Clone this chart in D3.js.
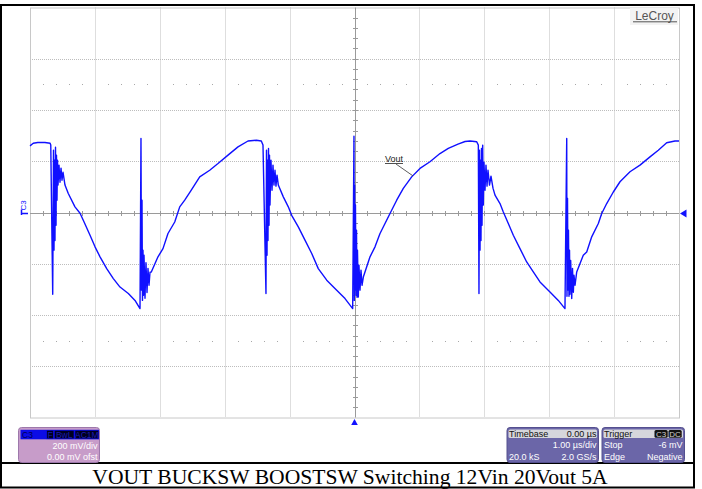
<!DOCTYPE html>
<html>
<head>
<meta charset="utf-8">
<script src="https://cdn.jsdelivr.net/npm/d3@7"></script>
<style>
  body { margin: 0; background: #fff; }
  svg { display: block; }
  text { font-family: "Liberation Sans", Arial, sans-serif; }
</style>
</head>
<body>
<svg id="scope" width="702" height="489"></svg>
<script>
// Channel 3 capture: time in microseconds, output voltage (AC coupled) in millivolts
const timeUs = [
  -5.00, -4.95, -4.88, -4.77, -4.69, -4.68, -4.65, -4.638, -4.630, -4.622, -4.615, -4.607, -4.599, -4.592,
  -4.584, -4.576, -4.568, -4.553, -4.538, -4.522, -4.507, -4.491, -4.461, -4.410, -4.307, -4.229, -4.179,
  -4.075, -3.998, -3.921, -3.818, -3.716, -3.613, -3.485, -3.382, -3.305, -3.290, -3.282, -3.274, -3.267,
  -3.259, -3.251, -3.243, -3.228, -3.213, -3.197, -3.182, -3.166, -3.151, -3.131, -3.028, -2.951, -2.874,
  -2.770, -2.693, -2.616, -2.515, -2.385, -2.231, -2.103, -1.949, -1.795, -1.641, -1.513, -1.436, -1.410,
  -1.364, -1.356, -1.348, -1.341, -1.333, -1.325, -1.317, -1.310, -1.302, -1.287, -1.271, -1.256, -1.241,
  -1.225, -1.210, -1.194, -1.174, -1.097, -1.020, -0.968, -0.866, -0.763, -0.659, -0.558, -0.428, -0.274,
  -0.146, -0.028, -0.008, -0.003, 0.002, 0.008, 0.015, 0.023, 0.031, 0.039, 0.046, 0.059, 0.069, 0.085,
  0.100, 0.116, 0.136, 0.239, 0.316, 0.393, 0.470, 0.547, 0.650, 0.752, 0.881, 1.009, 1.163, 1.317, 1.445,
  1.595, 1.703, 1.780, 1.883, 1.908, 1.918, 1.926, 1.934, 1.941, 1.949, 1.957, 1.965, 1.975, 1.985, 1.995,
  2.011, 2.026, 2.042, 2.057, 2.080, 2.103, 2.134, 2.165, 2.242, 2.293, 2.370, 2.447, 2.550, 2.653, 2.755,
  2.858, 3.012, 3.140, 3.243, 3.270, 3.274, 3.282, 3.290, 3.297, 3.305, 3.313, 3.320, 3.331, 3.347, 3.359,
  3.372, 3.382, 3.398, 3.424, 3.525, 3.578, 3.655, 3.757, 3.809, 3.886, 3.988, 4.091, 4.245, 4.399, 4.553,
  4.681, 4.810, 4.938, 5.000
];
const voutMv = [
  260, 270, 273, 273, 270, 263, -319, 243, -147, 204, -109, 255, -50, 224,
  48, 204, 107, 185, 118, 173, 126, 157, 107, 74, 22, -3, -30,
  -89, -134, -173, -219, -258, -291, -316, -343, -375, 289, -303, 48, -343,
  -147, -323, -167, -335, -196, -312, -218, -284, -233, -232, -173, -141, -82,
  -37, 22, 48, 87, 139, 165, 191, 224, 256, 279, 282, 279, 263,
  -316, 243, -167, 204, -109, 250, -50, 224, 29, 204, 87, 185, 107,
  165, 103, 146, 107, 61, 22, -11, -56, -108, -160, -219, -264, -303,
  -336, -375, 298, -343, 107, -303, 29, -323, -69, -331, -147, -330, -206, -303,
  -225, -284, -252, -173, -134, -82, -43, -4, 48, 94, 139, 172, 198, 230, 250,
  267, 277, 279, 276, 263, -316, 243, -147, 204, -109, 250, -50, 263, 29, 196,
  87, 185, 103, 165, 107, 142, 95, 68, 35, 2, -43, -89, -141, -193, -232,
  -271, -310, -343, -375, 289, -327, 56, -303, -69, -327, -147, -319, -187, -336, -218,
  -311, -245, -284, -232, -167, -154, -95, -43, -4, 35, 80, 120, 159, 185, 217,
  243, 272, 279, 279
];

// Graticule: 10 horizontal divisions of 1 µs, 8 vertical divisions of 200 mV
const xDivsUs = d3.range(-5, 5.0001, 1);
const yDivsMv = d3.range(-800, 801, 200);
const minorStepUs = 0.2;
const minorStepMv = 40;
const dotRowsMv = [500, -500];

const traceLabel = "Vout";
const channelName = "C3";
const channelFlags = ["F", "BwL", "AC1M"];
const channelLines = ["200 mV/div", "0.00 mV ofst"];
const timebaseTitle = ["Timebase", "0.00 µs"];
const timebaseRows = [["", "1.00 µs/div"], ["20.0 kS", "2.0 GS/s"]];
const triggerTitle = "Trigger";
const triggerFlags = ["C3", "DC"];
const triggerRows = [["Stop", "-6 mV"], ["Edge", "Negative"]];
const brand = "LeCroy";
const caption = "VOUT BUCKSW BOOSTSW Switching 12Vin 20Vout 5A";

const svg = d3.select("#scope");
const x = d3.scaleLinear().domain([-5, 5]).range([30, 679]);
const y = d3.scaleLinear().domain([-800, 800]).range([417.5, 7.5]);
const px = v => Math.round(v) + 0.5;

// Outer frame and caption separator
svg.append("rect").attr("x", 1).attr("y", 5).attr("width", 693).attr("height", 482.5)
  .attr("fill", "none").attr("stroke", "#000").attr("stroke-width", 2);
svg.append("line").attr("x1", 1).attr("x2", 694).attr("y1", 463).attr("y2", 463)
  .attr("stroke", "#000").attr("stroke-width", 2);

const grid = svg.append("g");
// Dotted division lines
grid.selectAll("line.vdiv").data(xDivsUs.slice(1, -1).filter(d => d !== 0)).join("line")
  .attr("x1", d => px(x(d))).attr("x2", d => px(x(d)))
  .attr("y1", y(800)).attr("y2", y(-800))
  .attr("stroke", "#bdbdbd").attr("stroke-dasharray", "1,1");
grid.selectAll("line.hdiv").data(yDivsMv.slice(1, -1).filter(d => d !== 0)).join("line")
  .attr("y1", d => px(y(d))).attr("y2", d => px(y(d)))
  .attr("x1", x(-5)).attr("x2", x(5))
  .attr("stroke", "#bdbdbd").attr("stroke-dasharray", "1,1");

// Dotted rows at ±1.5 divisions from the edges
const minorTimes = d3.range(-5 + minorStepUs, 5, minorStepUs)
  .filter(t => Math.abs(t - Math.round(t)) > 1e-6);
dotRowsMv.forEach(mv => {
  grid.selectAll(null).data(minorTimes).join("rect")
    .attr("x", d => Math.round(x(d))).attr("y", Math.round(y(mv)))
    .attr("width", 1).attr("height", 1).attr("fill", "#a8a8a8");
});

// Border of the graticule
grid.append("rect").attr("x", x(-5) + 0.5).attr("y", y(800) + 0.5)
  .attr("width", x(5) - x(-5)).attr("height", y(-800) - y(800))
  .attr("fill", "none").attr("stroke", "#c8c8c8");

// Centre axes with minor ticks
const cx = px(x(0)), cy = px(y(0));
grid.append("line").attr("x1", x(-5)).attr("x2", x(5)).attr("y1", cy).attr("y2", cy)
  .attr("stroke", "#9a9a9a");
grid.append("line").attr("x1", cx).attr("x2", cx).attr("y1", y(800)).attr("y2", y(-800))
  .attr("stroke", "#9a9a9a");
grid.selectAll(null).data(d3.range(-5 + minorStepUs, 5, minorStepUs)).join("line")
  .attr("x1", d => px(x(d))).attr("x2", d => px(x(d)))
  .attr("y1", cy - 2.5).attr("y2", cy + 2.5).attr("stroke", "#9a9a9a");
grid.selectAll(null).data(d3.range(-800 + minorStepMv, 800, minorStepMv)).join("line")
  .attr("y1", d => px(y(d))).attr("y2", d => px(y(d)))
  .attr("x1", cx - 2.5).attr("x2", cx + 2.5).attr("stroke", "#9a9a9a");

// Waveform
const points = timeUs.map((t, i) => [t, voutMv[i]]);
svg.append("path").datum(points)
  .attr("d", d3.line().x(d => x(d[0])).y(d => y(d[1])))
  .attr("fill", "none").attr("stroke", "#1010ff").attr("stroke-width", 1.4)
  .attr("stroke-linejoin", "round");

// Trace label with leader
svg.append("text").attr("x", 385).attr("y", 162).attr("font-size", 9).attr("fill", "#222")
  .text(traceLabel);
svg.append("line").attr("x1", 385).attr("x2", 403).attr("y1", 163.5).attr("y2", 163.5)
  .attr("stroke", "#222").attr("stroke-width", 0.8);
svg.append("line").attr("x1", 396).attr("y1", 164).attr("x2", x(0.90)).attr("y2", y(143))
  .attr("stroke", "#333").attr("stroke-width", 0.8);

// Channel ground marker on the left, trigger level and trigger position markers
svg.append("text").attr("transform", `translate(26,210.5) rotate(-90)`)
  .attr("font-size", 8).attr("fill", "#1212ff").text(channelName);
svg.append("path").attr("d", `M21.5,209.5V215M21.5,${cy}H28`)
  .attr("stroke", "#1212ff").attr("stroke-width", 1.5).attr("fill", "none");
svg.append("path").attr("d", `M680,${cy}L686.5,${cy - 4}L686.5,${cy + 4}Z`).attr("fill", "#1212ff");
svg.append("path").attr("d", `M${x(0)},419L${x(0) - 3.3},425L${x(0) + 3.3},425Z`).attr("fill", "#1212ff");

// Brand mark
svg.append("rect").attr("x", 630).attr("y", 8).attr("width", 48).attr("height", 17).attr("fill", "#f3f3f3");
svg.append("text").attr("x", 654.5).attr("y", 20).attr("text-anchor", "middle")
  .attr("font-size", 12).attr("fill", "#555").text(brand);
svg.append("line").attr("x1", 633).attr("x2", 677).attr("y1", 21.8).attr("y2", 21.8)
  .attr("stroke", "#555").attr("stroke-width", 1);

// Channel descriptor box
const ch = svg.append("g");
ch.append("rect").attr("x", 18.5).attr("y", 427.5).attr("width", 81).attr("height", 35).attr("rx", 3)
  .attr("fill", "#c79cc9").attr("stroke", "#9d78ab");
ch.append("rect").attr("x", 20.5).attr("y", 429.8).attr("width", 78.5).attr("height", 9.5).attr("fill", "#0c0ce6");
ch.append("text").attr("x", 22).attr("y", 437.8).attr("font-size", 8.5).attr("fill", "#000050").text(channelName);
const flagBoxes = [[46.7, 6.6], [54.3, 19.7], [75, 23.7]];
channelFlags.forEach((f, i) => {
  ch.append("rect").attr("x", flagBoxes[i][0]).attr("y", 430.3).attr("width", flagBoxes[i][1]).attr("height", 8.5)
    .attr("fill", "#000020").attr("stroke", "#0c0ce6").attr("stroke-width", 0.6);
  ch.append("text").attr("x", flagBoxes[i][0] + flagBoxes[i][1] / 2).attr("y", 437.8)
    .attr("text-anchor", "middle").attr("font-size", 8.5).attr("fill", "#1a1ab0").text(f);
});
channelLines.forEach((s, i) => {
  ch.append("text").attr("x", 97.5).attr("y", 448.5 + i * 11.5).attr("text-anchor", "end")
    .attr("font-size", 9).attr("fill", "#fff").text(s);
});

// Timebase and trigger boxes
function infoBox(x0, w, title, titleRight, rows, flags) {
  const g = svg.append("g");
  g.append("rect").attr("x", x0 + 0.5).attr("y", 427.5).attr("width", w).attr("height", 35).attr("rx", 3)
    .attr("fill", "#6b66a8").attr("stroke", "#55508f");
  g.append("rect").attr("x", x0 + 2).attr("y", 429.5).attr("width", w - 3).attr("height", 8.5)
    .attr("rx", 1.5).attr("fill", "#d6d6dc");
  g.append("text").attr("x", x0 + 2.5).attr("y", 436.8).attr("font-size", 9).attr("fill", "#111").text(title);
  if (titleRight) {
    g.append("text").attr("x", x0 + w - 1.5).attr("y", 436.8).attr("text-anchor", "end")
      .attr("font-size", 9).attr("fill", "#111").text(titleRight);
  }
  if (flags) {
    let fx = x0 + w - 1.5;
    flags.slice().reverse().forEach(f => {
      const fw = 14;
      fx -= fw;
      g.append("rect").attr("x", fx).attr("y", 430).attr("width", fw - 0.8).attr("height", 7.8)
        .attr("rx", 1.5).attr("fill", "#111");
      g.append("text").attr("x", fx + fw / 2 - 0.4).attr("y", 436.6).attr("text-anchor", "middle")
        .attr("font-size", 8).attr("fill", "#d0d0d0").text(f);
    });
  }
  rows.forEach((r, i) => {
    const yy = 448.3 + i * 11.7;
    if (r[0]) g.append("text").attr("x", x0 + 2.5).attr("y", yy).attr("font-size", 9).attr("fill", "#fff").text(r[0]);
    g.append("text").attr("x", x0 + w - 1.5).attr("y", yy).attr("text-anchor", "end")
      .attr("font-size", 9).attr("fill", "#fff").text(r[1]);
  });
}
infoBox(506.5, 91.5, timebaseTitle[0], timebaseTitle[1], timebaseRows, null);
infoBox(601.5, 82.5, triggerTitle, null, triggerRows, triggerFlags);

// Caption
svg.append("text").attr("x", 350).attr("y", 483.5).attr("text-anchor", "middle")
  .style("font-family", "'Liberation Serif', 'Times New Roman', serif")
  .attr("font-size", 21.6).attr("fill", "#000").text(caption);
</script>
</body>
</html>
